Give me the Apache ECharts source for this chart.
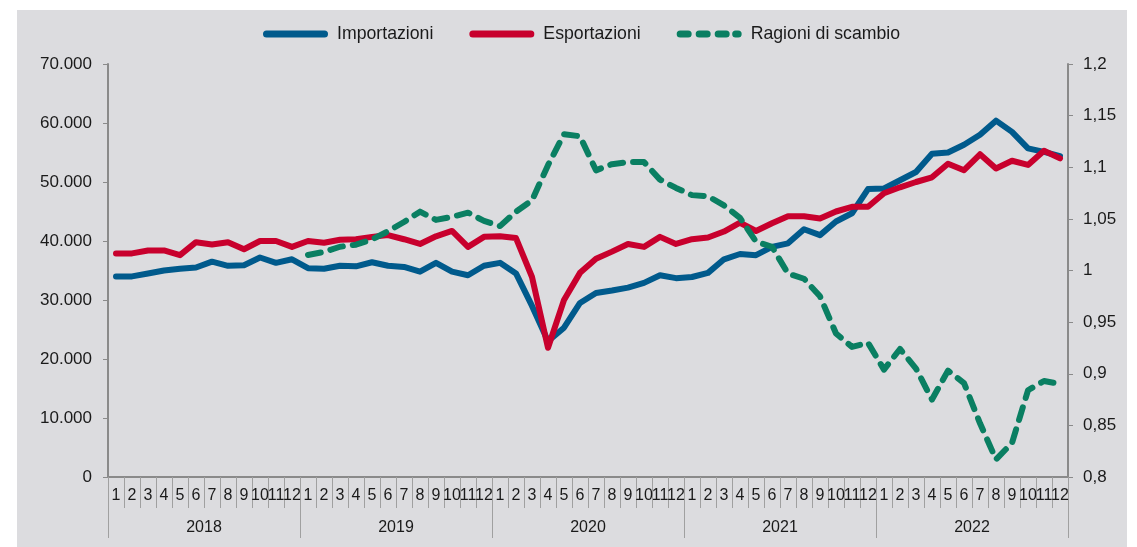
<!DOCTYPE html>
<html>
<head>
<meta charset="utf-8">
<script src="https://cdn.jsdelivr.net/npm/echarts@6/dist/echarts.min.js"></script>
<style>
html,body{margin:0;padding:0;background:#ffffff;}
#chart{width:1137px;height:547px;}
</style>
</head>
<body>
<div id="chart"></div>
<script>
// ---- data ----
const years = ['2018', '2019', '2020', '2021', '2022'];
const monthLabels = ['1','2','3','4','5','6','7','8','9','10','11','12'];

const importazioni = [
  34000, 34000, 34500, 35000, 35300, 35500, 36500, 35800, 35900, 37200, 36300, 36900,
  35400, 35300, 35800, 35700, 36400, 35800, 35600, 34800, 36300, 34800, 34200, 35800,
  36300, 34500, 29000, 23000, 25300, 29500, 31200, 31600, 32100, 32900, 34200, 33700,
  33900, 34600, 36900, 37800, 37600, 39000, 39600, 42000, 41000, 43300, 44700, 48800,
  48900, 50300, 51700, 54800, 55000, 56300, 58000, 60400, 58500, 55700, 55100, 54400
];
const esportazioni = [
  37900, 37900, 38400, 38400, 37600, 39800, 39400, 39800, 38600, 40000, 40000, 39000,
  40000, 39700, 40200, 40300, 40700, 41000, 40300, 39500, 40800, 41700, 39000, 40700,
  40800, 40500, 33900, 21900, 30000, 34600, 37000, 38200, 39500, 39000, 40700, 39500,
  40300, 40600, 41600, 43100, 41700, 43000, 44200, 44200, 43800, 45000, 45800, 45800,
  48100, 49100, 50000, 50800, 53100, 52000, 54700, 52300, 53600, 52900, 55300, 54000
];
const ragioniDiScambio = [
  null, null, null, null, null, null, null, null, null, null, null, null,
  1.015, 1.018, 1.023, 1.025, 1.030, 1.038, 1.047, 1.057, 1.049, 1.052, 1.056, 1.048,
  1.043, 1.057, 1.068, 1.102, 1.132, 1.130, 1.097, 1.103, 1.105, 1.105, 1.088, 1.080,
  1.073, 1.072, 1.063, 1.051, 1.028, 1.023, 0.997, 0.992, 0.975, 0.939, 0.926, 0.930,
  0.904, 0.924, 0.905, 0.875, 0.903, 0.891, 0.852, 0.817, 0.833, 0.884, 0.893, 0.890
];

// ---- build ----
const monthCats = [];
years.forEach(y => monthLabels.forEach(m => monthCats.push(y + '-' + m)));

const FONT = '"Liberation Sans", Arial, sans-serif';
const TXT = '#1a1a1a';
const AX = '#8a8a8a';
const C_IMP = '#005a8c', C_ESP = '#c8002d', C_RAG = '#0a7f62';

const solidIcon = 'path://M3.5,0H61.5A3.5,3.5,0,0,1,61.5,7H3.5A3.5,3.5,0,0,1,3.5,0Z';
const dashIcon = 'path://M3.5,0H11.5A3.5,3.5,0,0,1,11.5,7H3.5A3.5,3.5,0,0,1,3.5,0Z' +
  'M22.5,0H30.5A3.5,3.5,0,0,1,30.5,7H22.5A3.5,3.5,0,0,1,22.5,0Z' +
  'M41.5,0H49.5A3.5,3.5,0,0,1,49.5,7H41.5A3.5,3.5,0,0,1,41.5,0Z' +
  'M59,0H61.5A3.5,3.5,0,0,1,61.5,7H59A3.5,3.5,0,0,1,59,0Z';

const chart = echarts.init(document.getElementById('chart'), null, {renderer: 'canvas'});
chart.setOption({
  backgroundColor: '#ffffff',
  animation: false,
  graphic: [{
    type: 'rect', z: -100, silent: true,
    shape: {x: 17, y: 10, width: 1110, height: 537},
    style: {fill: '#dcdcdf'}
  }],
  textStyle: {fontFamily: FONT},
  legend: {
    top: 20, left: 258,
    itemWidth: 65, itemHeight: 7, itemGap: 36,
    textStyle: {fontFamily: FONT, fontSize: 17.7, color: TXT, padding: [0, 0, 0, 4]},
    data: [
      {name: 'Importazioni', icon: solidIcon, itemStyle: {color: C_IMP}},
      {name: 'Esportazioni', icon: solidIcon, itemStyle: {color: C_ESP}},
      {name: 'Ragioni di scambio', icon: dashIcon, itemStyle: {color: C_RAG}}
    ]
  },
  grid: {left: 108, right: 69, top: 64, bottom: 70, containLabel: false},
  xAxis: [
    {
      type: 'category', data: monthCats, boundaryGap: true, position: 'bottom',
      axisLine: {show: true, lineStyle: {color: AX, width: 2}},
      axisTick: {show: true, interval: 0, length: 31, lineStyle: {color: '#a0a0a0', width: 1}},
      axisLabel: {interval: 0, margin: 11, fontSize: 16, color: TXT, fontFamily: FONT,
        formatter: v => v.split('-')[1]},
      splitLine: {show: false}
    },
    {
      type: 'category', data: years, boundaryGap: true, position: 'bottom',
      axisLine: {show: false},
      axisTick: {show: true, interval: 0, length: 61, lineStyle: {color: '#a0a0a0', width: 1}},
      axisLabel: {interval: 0, margin: 43, fontSize: 16, color: TXT, fontFamily: FONT},
      splitLine: {show: false}
    }
  ],
  yAxis: [
    {
      type: 'value', min: 0, max: 70000, interval: 10000, position: 'left',
      axisLine: {show: true, lineStyle: {color: AX, width: 2}},
      axisTick: {show: true, inside: false, length: 5, lineStyle: {color: AX}},
      axisLabel: {margin: 16, fontSize: 17, color: TXT, fontFamily: FONT,
        formatter: v => v === 0 ? '0' : (v / 1000) + '.000'},
      splitLine: {show: false}
    },
    {
      type: 'value', min: 0.8, max: 1.2, interval: 0.05, position: 'right',
      axisLine: {show: true, lineStyle: {color: AX, width: 2}},
      axisTick: {show: true, inside: false, length: 5, lineStyle: {color: AX}},
      axisLabel: {margin: 15, fontSize: 17, color: TXT, fontFamily: FONT,
        formatter: v => (Math.round(v * 100) / 100).toString().replace('.', ',')},
      splitLine: {show: false}
    }
  ],
  series: [
    {
      name: 'Importazioni', type: 'line', data: importazioni, xAxisIndex: 0, yAxisIndex: 0,
      symbol: 'none', color: C_IMP,
      lineStyle: {width: 6, color: C_IMP, join: 'round', cap: 'round'}
    },
    {
      name: 'Esportazioni', type: 'line', data: esportazioni, xAxisIndex: 0, yAxisIndex: 0,
      symbol: 'none', color: C_ESP,
      lineStyle: {width: 6, color: C_ESP, join: 'round', cap: 'round'}
    },
    {
      name: 'Ragioni di scambio', type: 'line', data: ragioniDiScambio, xAxisIndex: 0, yAxisIndex: 1,
      symbol: 'none', color: C_RAG, connectNulls: false,
      lineStyle: {width: 6, color: C_RAG, type: [13, 10], cap: 'round', join: 'round'}
    }
  ]
});
</script>
</body>
</html>
